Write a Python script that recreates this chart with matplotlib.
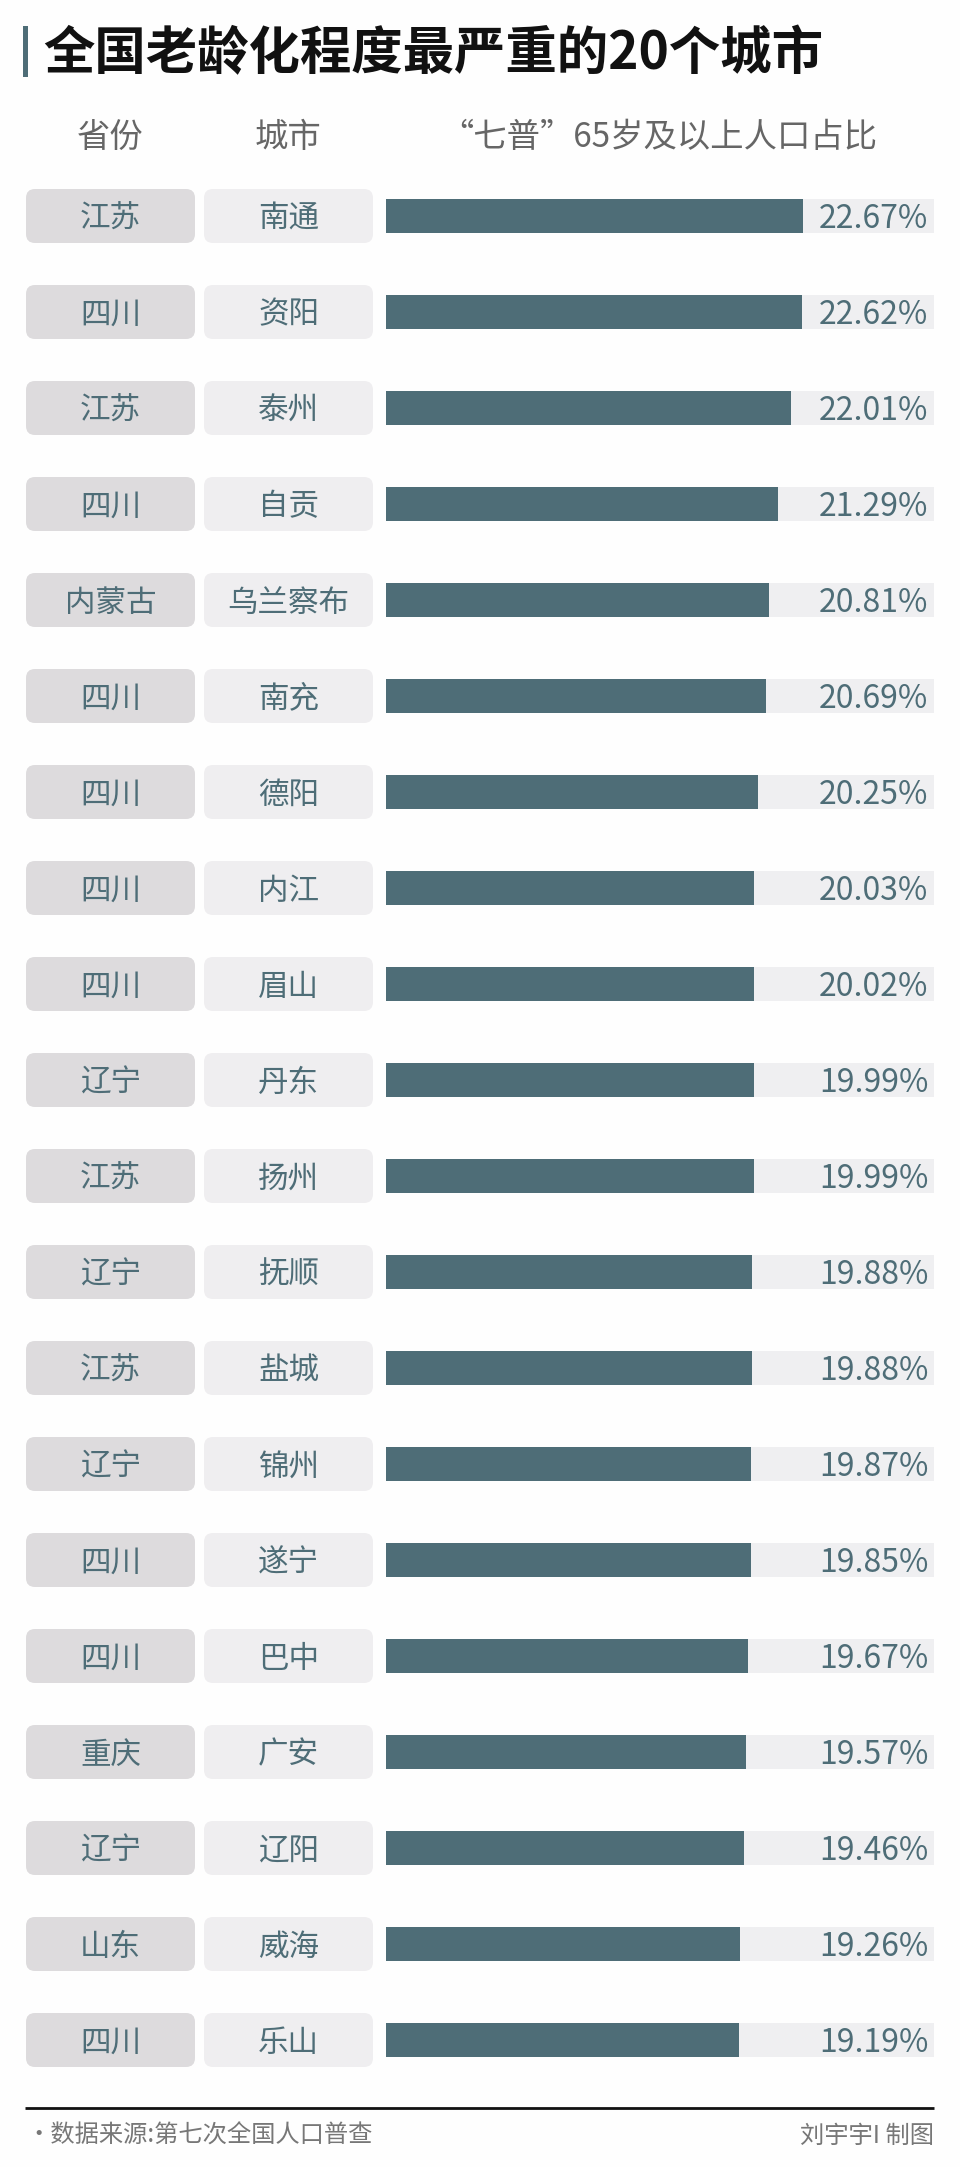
import matplotlib
matplotlib.use("Agg")
import matplotlib.pyplot as plt
from matplotlib.patches import FancyBboxPatch, Rectangle

plt.rcParams['font.family'] = ['Noto Sans CJK SC', 'DejaVu Sans']

# data
provinces = ['江苏', '四川', '江苏', '四川', '内蒙古', '四川', '四川', '四川', '四川', '辽宁',
             '江苏', '辽宁', '江苏', '辽宁', '四川', '四川', '重庆', '辽宁', '山东', '四川']
cities = ['南通', '资阳', '泰州', '自贡', '乌兰察布', '南充', '德阳', '内江', '眉山', '丹东',
          '扬州', '抚顺', '盐城', '锦州', '遂宁', '巴中', '广安', '辽阳', '威海', '乐山']
shares = [22.67, 22.62, 22.01, 21.29, 20.81, 20.69, 20.25, 20.03, 20.02, 19.99,
          19.99, 19.88, 19.88, 19.87, 19.85, 19.67, 19.57, 19.46, 19.26, 19.19]

title = '全国老龄化程度最严重的20个城市'
headers = ['省份', '城市', '“七普”65岁及以上人口占比']
source = '·数据来源:第七次全国人口普查'
credit = '刘宇宇I 制图'

teal = '#4e6d77'
prov_bg = '#dddbdd'
city_bg = '#efeef0'
track = '#efeff1'

W, H = 960, 2167
fig = plt.figure(figsize=(W / 100, H / 100), dpi=100)
fig.patch.set_facecolor('#fefefe')

# background axes in pixel units for title, boxes, footer
bg = fig.add_axes([0, 0, 1, 1])
bg.set_xlim(0, W)
bg.set_ylim(H, 0)
bg.axis('off')

# title
bg.add_patch(Rectangle((23, 26), 5, 51, color=teal, lw=0))
bg.text(43, 54, title, fontsize=37, fontweight='bold', color='#111111', va='center', ha='left')

# column headers
bg.text(110.5, 137, headers[0], fontsize=24, color='#666666', ha='center', va='center')
bg.text(288.5, 137, headers[1], fontsize=24, color='#666666', ha='center', va='center')
bg.text(659, 137, headers[2], fontsize=24, color='#666666', ha='center', va='center')

row0, step = 216, 96
for i, (p, c) in enumerate(zip(provinces, cities)):
    yc = row0 + step * i
    bg.add_patch(FancyBboxPatch((26, yc - 27), 169, 54, boxstyle='round,pad=0,rounding_size=9',
                                fc=prov_bg, ec='none'))
    bg.add_patch(FancyBboxPatch((204, yc - 27), 169, 54, boxstyle='round,pad=0,rounding_size=9',
                                fc=city_bg, ec='none'))
    bg.text(110.5, yc + 3, p, fontsize=22, color=teal, ha='center', va='center', fontweight='medium')
    bg.text(288.5, yc + 3, c, fontsize=22, color=teal, ha='center', va='center')

# footer
bg.plot([25, 934], [2108, 2108], color='#111111', lw=2, solid_capstyle='butt')
bg.text(26, 2136, source, fontsize=17.5, color='#777777', ha='left', va='center')
bg.text(934, 2136, credit, fontsize=17.5, color='#777777', ha='right', va='center')

# bar axes
x0, x1 = 386, 934
top, bottom = row0 - step / 2, row0 + step * (len(shares) - 1) + step / 2
ax = fig.add_axes([x0 / W, 1 - bottom / H, (x1 - x0) / W, (bottom - top) / H])
xmax = 29.8
ax.set_xlim(0, xmax)
ax.set_ylim(len(shares) - 0.5, -0.5)
ax.axis('off')
ax.patch.set_alpha(0)

ypos = list(range(len(shares)))
ax.barh(ypos, [xmax] * len(shares), height=0.355, color=track, lw=0)
ax.barh(ypos, shares, height=0.355, color=teal, lw=0)
for y, v in zip(ypos, shares):
    ax.text(xmax - 0.3, y + 0.03, f'{v:.2f}%', fontsize=23, color=teal, ha='right', va='center')

fig.savefig('out.png', dpi=100, facecolor=fig.get_facecolor())
